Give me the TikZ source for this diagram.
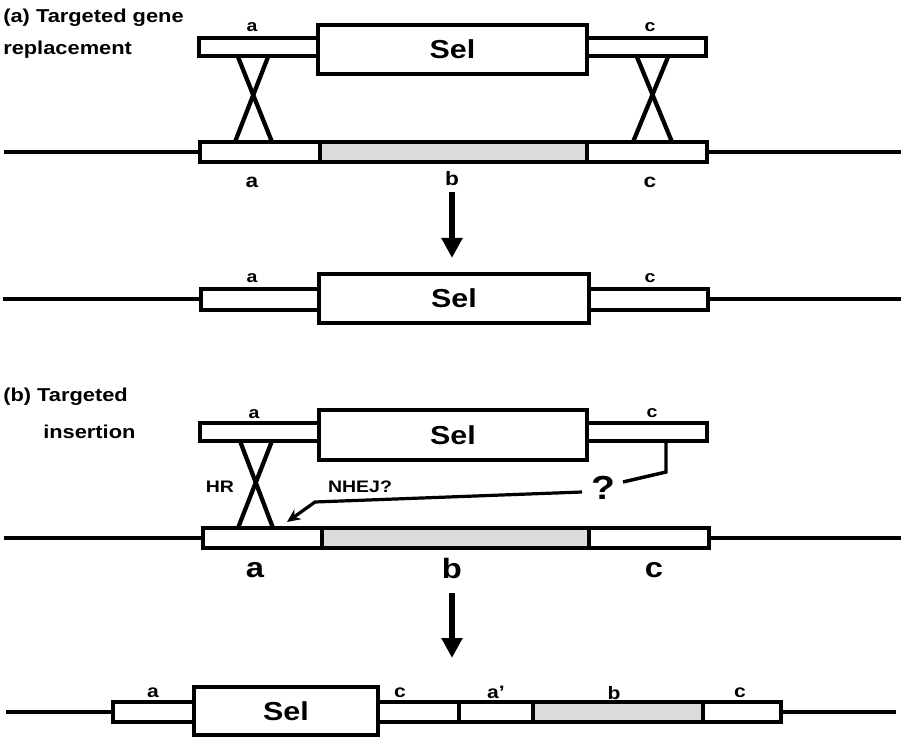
\documentclass[tikz,border=0pt]{standalone}
\usepackage{fontspec}
\setmainfont[FakeStretch=1.17]{Liberation Sans}
\usetikzlibrary{arrows.meta}
\definecolor{graybox}{RGB}{220,220,220}
\newcommand{\seg}[7]{\node[#1, minimum width={(#4-#2)*0.75pt}, minimum height={(#5-#3)*0.75pt}] (#6) at ({(#2+#4)/2},{(#3+#5)/2}) {#7};}
\begin{document}
\begin{tikzpicture}[x=0.75pt,y=-0.75pt,
  seg/.style={draw, line width=3.2pt, fill=white, inner sep=0pt, outer sep=0pt},
  gseg/.style={seg, fill=graybox},
  selbox/.style={seg, font=\bfseries\fontsize{19.5}{19.5}\selectfont},
  chrom/.style={line width=3.2pt},
  xline/.style={line width=3.2pt},
  title/.style={font=\bfseries\fontsize{14}{14}\selectfont, inner sep=0pt, anchor=west},
  lbls/.style={font=\bfseries\fontsize{12.5}{12.5}\selectfont, inner sep=0pt},
  lblf/.style={font=\bfseries\fontsize{13.5}{13.5}\selectfont, inner sep=0pt},
  lblm/.style={font=\bfseries\fontsize{14.5}{14.5}\selectfont, inner sep=0pt},
  lblb/.style={font=\bfseries\fontsize{21}{21}\selectfont, inner sep=0pt},
  smalltxt/.style={font=\bfseries\fontsize{12.5}{12.5}\selectfont, inner sep=0pt},
  bigarrow/.style={line width=5.2pt, -{Triangle[width=15pt,length=15pt]}},
  thinarrow/.style={line width=2.4pt, -{Stealth[width=9pt,length=10pt]}},
]
\useasboundingbox (0,0) rectangle (901,738);

% ---------- (a) ----------
\node[title] (ta1) at (3,18) {(a) Targeted gene};
\node[title] (ta2) at (3,50) {replacement};

% donor
\seg{seg}{199}{38}{318}{56}{dA}{}
\seg{seg}{587}{38}{706}{56}{dC}{}
\seg{selbox}{318}{25}{587}{74}{dSel}{Sel}
\node[lbls] (ldA) at (252,27) {a};
\node[lbls] (ldC) at (650,27) {c};

% chromosome
\coordinate (la) at (4,152);
\coordinate (ra) at (901,152);
\draw[chrom] (la) -- (200,152);
\draw[chrom] (707,152) -- (ra);
\seg{seg}{200}{142}{320}{162}{cA}{}
\seg{gseg}{320}{142}{587}{162}{cB}{}
\seg{seg}{587}{142}{707}{162}{cC}{}
\node[lblm] (lcA) at (252,182) {a};
\node[lblm] (lcB) at (452,179) {b};
\node[lblm] (lcC) at (650,182) {c};

% crossovers
\coordinate (xa1) at (238,57); \coordinate (xa2) at (272,142);
\coordinate (xa3) at (268,57); \coordinate (xa4) at (235,142);
\coordinate (xc1) at (637,57); \coordinate (xc2) at (672,142);
\coordinate (xc3) at (668,57); \coordinate (xc4) at (633,142);
\draw[xline] (xa1) -- (xa2);
\draw[xline] (xa3) -- (xa4);
\draw[xline] (xc1) -- (xc2);
\draw[xline] (xc3) -- (xc4);

% arrow
\coordinate (aa1) at (452,192);
\coordinate (aa2) at (452,258);
\draw[bigarrow] (aa1) -- (aa2);

% product
\coordinate (lp) at (3,299);
\coordinate (rp) at (901,299);
\draw[chrom] (lp) -- (201,299);
\draw[chrom] (708,299) -- (rp);
\seg{seg}{201}{289}{319}{310}{pA}{}
\seg{seg}{589}{289}{708}{310}{pC}{}
\seg{selbox}{319}{274}{589}{323}{pSel}{Sel}
\node[lbls] (lpA) at (252,278) {a};
\node[lbls] (lpC) at (650,278) {c};

% ---------- (b) ----------
\node[title] (tb1) at (3,397) {(b) Targeted};
\node[title] (tb2) at (43,432) {insertion};

% donor
\seg{seg}{200}{423}{319}{441}{eA}{}
\seg{seg}{587}{423}{707}{441}{eC}{}
\seg{selbox}{319}{410}{587}{460}{eSel}{Sel}
\node[lbls] (leA) at (254,414) {a};
\node[lbls] (leC) at (652,413) {c};

% chromosome
\coordinate (lb) at (4,538);
\coordinate (rb) at (901,538);
\draw[chrom] (lb) -- (203,538);
\draw[chrom] (709,538) -- (rb);
\seg{seg}{203}{528}{322}{548}{fA}{}
\seg{gseg}{322}{528}{589}{548}{fB}{}
\seg{seg}{589}{528}{709}{548}{fC}{}
\node[lblb] (lfA) at (255,570) {a};
\node[lblb] (lfB) at (452,568) {b};
\node[lblb] (lfC) at (654,570) {c};

% HR crossover
\coordinate (xb1) at (240,441); \coordinate (xb2) at (273,528);
\coordinate (xb3) at (272,441); \coordinate (xb4) at (238,528);
\draw[xline] (xb1) -- (xb2);
\draw[xline] (xb3) -- (xb4);
\node[smalltxt] (hr) at (220,487) {HR};

% NHEJ
\node[font=\bfseries\fontsize{25}{25}\selectfont, inner sep=0pt] (q) at (603,488) {?};
\coordinate (br1) at (666,441);
\coordinate (br2) at (666,472);
\coordinate (br3) at (623,482);
\draw[line width=2.6pt] (br1) -- (br2) -- (br3);
\coordinate (n1) at (582,492);
\coordinate (n2) at (315,502);
\coordinate (n3) at (287,522);
\draw[thinarrow] (n1) -- (n2) -- (n3);
\node[smalltxt] (nhej) at (360,487) {NHEJ?};

% arrow
\coordinate (ab1) at (452,593);
\coordinate (ab2) at (452,658);
\draw[bigarrow] (ab1) -- (ab2);

% final product
\coordinate (lq) at (6,712);
\coordinate (rq) at (896,712);
\draw[chrom] (lq) -- (113,712);
\draw[chrom] (781,712) -- (rq);
\seg{seg}{113}{702}{194}{722}{gA}{}
\seg{seg}{378}{702}{459}{722}{gC}{}
\seg{seg}{459}{702}{533}{722}{gAp}{}
\seg{gseg}{533}{702}{703}{722}{gB}{}
\seg{seg}{703}{702}{781}{722}{gC2}{}
\seg{selbox}{194}{687}{378}{735}{gSel}{Sel}
\node[lblf] (lgA) at (153,693) {a};
\node[lblf] (lgC) at (400,693) {c};
\node[lblf] (lgAp) at (496,692) {a’};
\node[lblf] (lgB) at (614,693) {b};
\node[lblf] (lgC2) at (740,693) {c};
\end{tikzpicture}
\end{document}
